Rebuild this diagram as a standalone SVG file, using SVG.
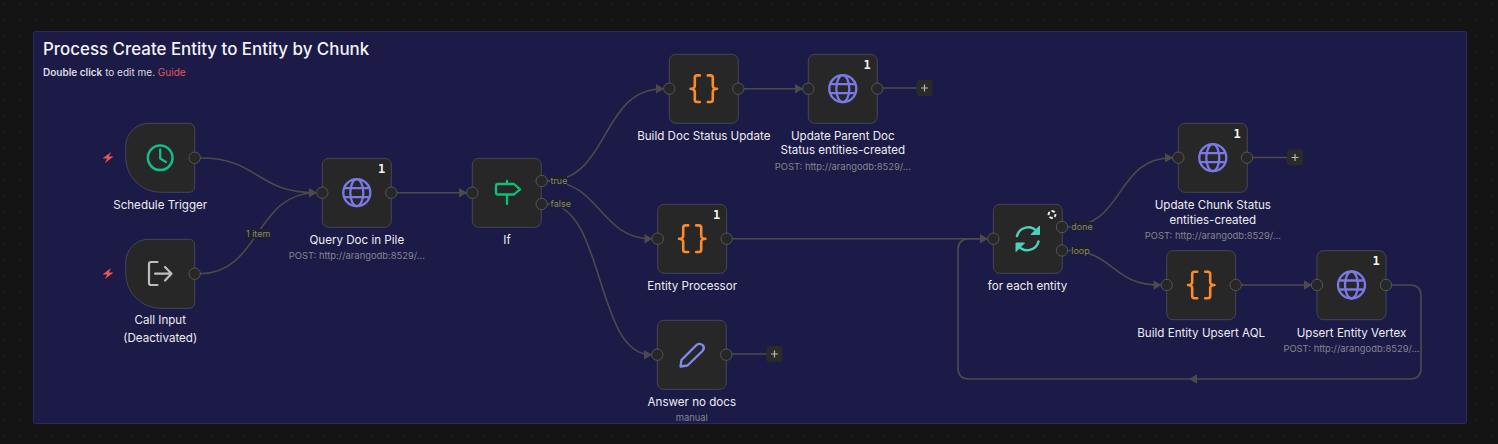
<svg xmlns="http://www.w3.org/2000/svg" width="1498" height="444" viewBox="0 0 1498 444">
<style>
text{font-family:Inter,"Noto Sans","Liberation Sans",sans-serif}
.box{fill:#272727;stroke:#45455c;stroke-width:1}
.port{fill:#272727;stroke:#55555a;stroke-width:1}
.edge{fill:none;stroke:#4b4b4b;stroke-width:1.6}
.arrow{fill:#4b4b4b}
.lbl{font-size:11.6px;fill:#ececf2;text-anchor:middle}
.sub{font-size:9.400px;fill:#85858f;text-anchor:middle}
.elbl{font-size:9px;fill:#85858a}
.ebg{fill:#1f1f26}
.badge{font-family:"DejaVu Sans Mono","Liberation Mono",monospace;font-size:12px;font-weight:700;fill:#f4f4f4;text-anchor:middle}
.globe{fill:none;stroke:#7b78e8;stroke-width:2.3}
.brace{fill:none;stroke:#fb8a2c;stroke-width:2.6;stroke-linecap:round;stroke-linejoin:round}
.plus{fill:#2a2a2a}
.plusm{stroke:#b5b5b5;stroke-width:1.2}
.bolt{fill:#f0544f}
</style>
<defs>
<pattern id="dots" width="16" height="16" patternUnits="userSpaceOnUse"><circle cx="4" cy="4" r=".6" fill="#2e2e2e"/></pattern>
<rect id="nb" width="69" height="69" rx="6.500"/>
<path id="trig" d="M23 0H63.500A5.500 5.500 0 0 1 69 5.500V63.500A5.500 5.500 0 0 1 63.500 69H35A35 35 0 0 1 0 34V23A23 23 0 0 1 23 0Z"/>
<g id="globe" class="globe"><circle r="13.500"/><ellipse rx="6.500" ry="13.500"/><path d="M-12 -4.500H12M-12 4.500H12"/></g>
<g id="brace" class="brace"><path d="M-4 -13.300H-6.500Q-9 -13.300 -9 -11V-3Q-9 0 -13.200 0Q-9 0 -9 3V11Q-9 13.300 -6.500 13.300H-4"/><path d="M4 -13.300H6.500Q9 -13.300 9 -11V-3Q9 0 13.200 0Q9 0 9 3V11Q9 13.300 6.500 13.300H4"/></g>
<path id="bolt" class="bolt" d="M3 -5.500L-5.500 0.900H-0.800L-3 5.500L5.500 -0.900H0.800Z"/>
<g id="plusb"><rect class="plus" x="-8" y="-8" width="16" height="16" rx="2.500"/><path class="plusm" d="M-3.500 0H3.500M0 -3.500V3.500"/></g>
<path id="ah" class="arrow" d="M0 -4.800L8 0L0 4.800Z"/>
</defs>

<rect width="1498" height="444" fill="#141414"/>
<rect width="1498" height="444" fill="url(#dots)"/>

<g id="sticky">
<rect x="33.500" y="31.500" width="1433" height="392" rx="2" fill="#1c1a46" stroke="#2c2a5a"/>
<text x="43" y="54.500" font-size="16.900" font-weight="500" fill="#f3f3f8">Process Create Entity to Entity by Chunk</text>
<text x="43" y="76" font-size="10" fill="#dcdce4"><tspan font-weight="600">Double click</tspan> to edit me. <tspan fill="#e0575f">Guide</tspan></text>
</g>

<g id="connectors">
<path class="edge" d="M200 158C260 158 255 192.700 316 192.700"/>
<path class="edge" d="M200 273.700C260 273.700 255 192.700 316 192.700"/>
<path class="edge" d="M397 192.700H466"/>
<path class="edge" d="M547 181C610 181 600 88.700 663 88.700"/>
<path class="edge" d="M547 181C600 181 600 238.700 651 238.700"/>
<path class="edge" d="M547 204C605 204 595 354.700 651 354.700"/>
<path class="edge" d="M744 88.700H802"/>
<path class="edge" d="M883 88H917"/>
<path class="edge" d="M732 238.700H987"/>
<path class="edge" d="M732 354H767"/>
<path class="edge" d="M1067 227C1125 227 1115 157.700 1172 157.700"/>
<path class="edge" d="M1067 250.500C1115 250.500 1110 285 1160 285"/>
<path class="edge" d="M1252 157.500H1287"/>
<path class="edge" d="M1241 285H1311"/>
<path class="edge" d="M1391 285H1410Q1421 285 1421 296V368Q1421 379 1410 379H969Q958 379 958 368V250Q958 238.700 969 238.700H987"/>
<use href="#ah" x="309" y="192.700"/>
<use href="#ah" x="459" y="192.700"/>
<use href="#ah" x="656" y="88.700"/>
<use href="#ah" x="795" y="88.700"/>
<use href="#ah" x="644.500" y="238.700"/>
<use href="#ah" x="644" y="354.700"/>
<use href="#ah" x="980" y="238.700"/>
<use href="#ah" x="1165" y="157.700"/>
<use href="#ah" x="1153.500" y="285"/>
<use href="#ah" x="1304" y="285"/>
<path class="arrow" d="M1197 374.200L1189 379L1197 383.800Z"/>
<rect class="ebg" x="245.500" y="229" width="25" height="9.500"/><text class="elbl" x="246" y="236.900">1 item</text>
<rect class="ebg" x="550" y="176" width="17" height="9.500"/><text class="elbl" x="550.500" y="184">true</text>
<rect class="ebg" x="550" y="199" width="20" height="9.500"/><text class="elbl" x="550.500" y="207">false</text>
<rect class="ebg" x="1071" y="222" width="21" height="9.500"/><text class="elbl" x="1071.300" y="230">done</text>
<rect class="ebg" x="1071" y="246" width="18" height="9.500"/><text class="elbl" x="1071.300" y="254">loop</text>
</g>

<g id="schedule-trigger">
<use href="#bolt" x="108" y="157.500"/>
<use href="#trig" x="125.700" y="123.300" class="box"/>
<circle class="port" cx="194.700" cy="157.800" r="5.700"/>
<circle cx="160.200" cy="157.800" r="12.300" fill="none" stroke="#10bd8c" stroke-width="2.500"/>
<path d="M160.200 149.500V158.500L166 162" fill="none" stroke="#10bd8c" stroke-width="2.300" stroke-linecap="round" stroke-linejoin="round"/>
<text class="lbl" x="160.200" y="209">Schedule Trigger</text>
</g>

<g id="call-input">
<use href="#bolt" x="108" y="273.500"/>
<use href="#trig" x="125.700" y="239.300" class="box"/>
<circle class="port" cx="194.700" cy="273.700" r="5.700"/>
<path d="M157.500 262H151Q149 262 149 264V283Q149 285 151 285H157.500M155 273.700H171.500M165 267L171.500 273.700L165 280.500" fill="none" stroke="#bdbdbd" stroke-width="2.200" stroke-linecap="round" stroke-linejoin="round"/>
<text class="lbl" x="160.200" y="324">Call Input</text>
<text class="lbl" x="160.200" y="342">(Deactivated)</text>
</g>

<g id="query-doc">
<use href="#nb" x="322.300" y="158.300" class="box"/>
<circle class="port" cx="322.300" cy="192.700" r="5.700"/><circle class="port" cx="391.300" cy="192.700" r="5.700"/>
<use href="#globe" x="356.800" y="192.700"/>
<text class="badge" x="381.500" y="172.500">1</text>
<text class="lbl" x="356.800" y="244">Query Doc in Pile</text>
<text class="sub" x="356.800" y="259">POST: http://arangodb:8529/...</text>
</g>

<g id="if">
<use href="#nb" x="472.300" y="158.300" class="box"/>
<circle class="port" cx="472.300" cy="192.700" r="5.700"/>
<circle class="port" cx="541.700" cy="181" r="5.700"/><circle class="port" cx="541.700" cy="204" r="5.700"/>
<path d="M507 181V184H498Q496 184 496 186V192.500Q496 194.500 498 194.500H514L520 189.300L514 184H507M507 194.500V204" fill="none" stroke="#0fbf74" stroke-width="2.300" stroke-linecap="round" stroke-linejoin="round"/>
<text class="lbl" x="507" y="244">If</text>
</g>

<g id="build-doc-status">
<use href="#nb" x="669.300" y="54.300" class="box"/>
<circle class="port" cx="669.300" cy="88.700" r="5.700"/><circle class="port" cx="738.300" cy="88.700" r="5.700"/>
<use href="#brace" x="703.800" y="88.700"/>
<text class="lbl" x="703.800" y="140">Build Doc Status Update</text>
</g>

<g id="update-parent-doc">
<use href="#nb" x="808.300" y="54.300" class="box"/>
<circle class="port" cx="808.300" cy="88.700" r="5.700"/><circle class="port" cx="877.300" cy="88.700" r="5.700"/>
<use href="#globe" x="842.800" y="88.700"/>
<text class="badge" x="867" y="68.500">1</text>
<text class="lbl" x="842.800" y="140">Update Parent Doc</text>
<text class="lbl" x="842.800" y="154">Status entities-created</text>
<text class="sub" x="842.800" y="170">POST: http://arangodb:8529/...</text>
<use href="#plusb" x="924.500" y="88"/>
</g>

<g id="entity-processor">
<use href="#nb" x="657.700" y="204.300" class="box"/>
<circle class="port" cx="657.700" cy="238.700" r="5.700"/><circle class="port" cx="726.700" cy="238.700" r="5.700"/>
<use href="#brace" x="692.200" y="238.700"/>
<text class="badge" x="716.500" y="218.500">1</text>
<text class="lbl" x="692.200" y="290">Entity Processor</text>
</g>

<g id="answer-no-docs">
<use href="#nb" x="657.300" y="320.300" class="box"/>
<circle class="port" cx="657.300" cy="354.700" r="5.700"/><circle class="port" cx="726.300" cy="354.700" r="5.700"/>
<path d="M680.500 366.500L681.500 360L696.500 345Q700 342.500 703 345.500Q705 348.500 702.500 351L687.500 365.500Z" fill="none" stroke="#7f8bf2" stroke-width="2.300" stroke-linejoin="round"/>
<text class="lbl" x="691.800" y="406">Answer no docs</text>
<text class="sub" x="691.800" y="421">manual</text>
<use href="#plusb" x="774.500" y="354"/>
</g>

<g id="for-each-entity">
<use href="#nb" x="993.300" y="204.300" class="box"/>
<circle class="port" cx="993.300" cy="238.700" r="5.700"/>
<circle class="port" cx="1062" cy="227" r="5.700"/><circle class="port" cx="1062" cy="250.500" r="5.700"/>
<path d="M1017 236A11.500 11.500 0 0 1 1037 231.500M1038.500 241.500A11.500 11.500 0 0 1 1018.500 246" fill="none" stroke="#4dd0bb" stroke-width="2.500" stroke-linecap="round"/>
<path d="M1039.500 226V234.500H1031ZM1016 251.500V243H1024.500Z" fill="#4dd0bb" stroke="#4dd0bb" stroke-width="1" stroke-linejoin="round"/>
<circle cx="1052" cy="214.500" r="3.400" fill="none" stroke="#f0f0f0" stroke-width="2" stroke-dasharray="3.500 1.850" stroke-dashoffset="1"/>
<text class="lbl" x="1027.500" y="290">for each entity</text>
</g>

<g id="update-chunk-status">
<use href="#nb" x="1178.300" y="123.300" class="box"/>
<circle class="port" cx="1178.300" cy="157.700" r="5.700"/><circle class="port" cx="1247" cy="157.700" r="5.700"/>
<use href="#globe" x="1212.800" y="157.700"/>
<text class="badge" x="1237" y="137.500">1</text>
<text class="lbl" x="1212.800" y="209">Update Chunk Status</text>
<text class="lbl" x="1212.800" y="224">entities-created</text>
<text class="sub" x="1212.800" y="238.500">POST: http://arangodb:8529/...</text>
<use href="#plusb" x="1295" y="157.500"/>
</g>

<g id="build-entity-upsert">
<use href="#nb" x="1166.700" y="250.700" class="box"/>
<circle class="port" cx="1166.700" cy="285" r="5.700"/><circle class="port" cx="1235.700" cy="285" r="5.700"/>
<use href="#brace" x="1201.200" y="285"/>
<text class="lbl" x="1201.200" y="337">Build Entity Upsert AQL</text>
</g>

<g id="upsert-entity-vertex">
<use href="#nb" x="1317" y="250.700" class="box"/>
<circle class="port" cx="1317" cy="285" r="5.700"/><circle class="port" cx="1386" cy="285" r="5.700"/>
<use href="#globe" x="1351.500" y="285"/>
<text class="badge" x="1376" y="265">1</text>
<text class="lbl" x="1351.500" y="337">Upsert Entity Vertex</text>
<text class="sub" x="1351.500" y="352">POST: http://arangodb:8529/...</text>
</g>
</svg>
